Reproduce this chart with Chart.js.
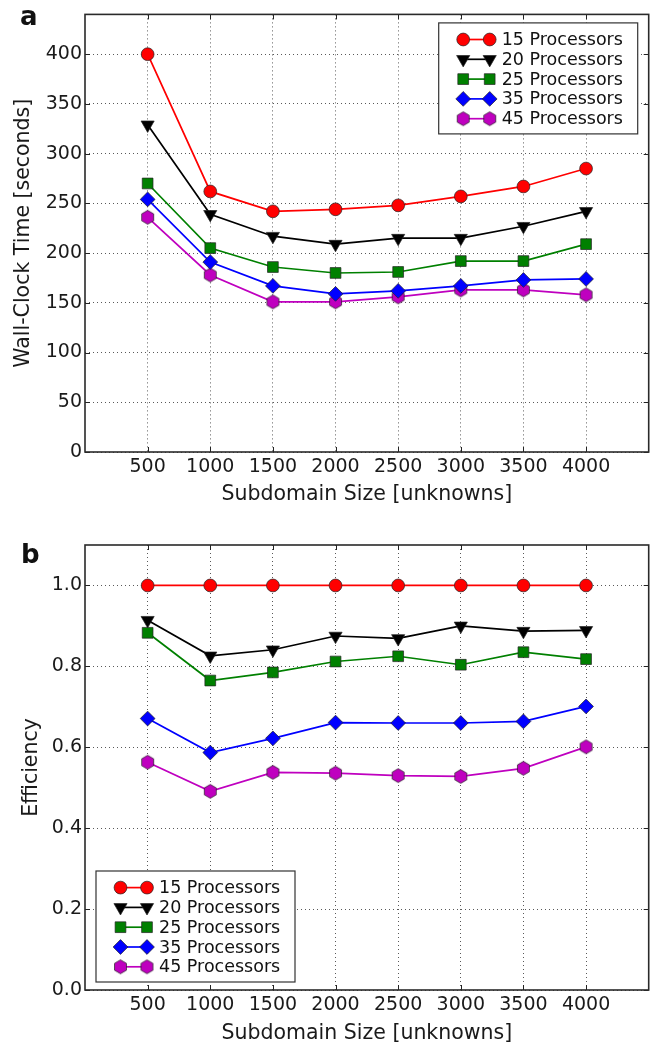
<!DOCTYPE html>
<html>
<head>
<meta charset="utf-8">
<script src="https://cdn.jsdelivr.net/npm/chart.js@4.4.1/dist/chart.umd.min.js"></script>
<style>
  html, body { margin: 0; padding: 0; background: #fff; }
  #page { position: relative; width: 657px; height: 1046px; overflow: hidden; font-family: "DejaVu Sans", sans-serif; }
  canvas { position: absolute; left: 0; }
  #time-chart { top: 0; }
  #eff-chart { top: 520px; }
  .panel-tag { position: absolute; font-weight: bold; font-size: 26px; line-height: 26px; color: #111; }
</style>
</head>
<body>
<div id="page">
  <canvas id="time-chart" width="657" height="520"></canvas>
  <canvas id="eff-chart" width="657" height="526"></canvas>
  <div class="panel-tag" style="left:20px; top:3px;">a</div>
  <div class="panel-tag" style="left:21px; top:541px;">b</div>
</div>
<script>
const subdomainSizes = [500, 1000, 1500, 2000, 2500, 3000, 3500, 4000];
const processorLabels = ['15 Processors', '20 Processors', '25 Processors', '35 Processors', '45 Processors'];

const wallClock15 = [400, 262, 242, 244, 248, 257, 267, 285];
const wallClock20 = [329, 239, 217, 209, 215, 215, 227, 242];
const wallClock25 = [270, 205, 186, 180, 181, 192, 192, 209];
const wallClock35 = [254, 191, 167, 159, 162, 167, 173, 174];
const wallClock45 = [236, 178, 151, 151, 156, 163, 163, 158];

const efficiency15 = [1.0, 1.0, 1.0, 1.0, 1.0, 1.0, 1.0, 1.0];
const efficiency20 = [0.914, 0.826, 0.841, 0.875, 0.869, 0.900, 0.887, 0.889];
const efficiency25 = [0.883, 0.765, 0.785, 0.812, 0.825, 0.804, 0.835, 0.818];
const efficiency35 = [0.671, 0.587, 0.622, 0.661, 0.660, 0.660, 0.664, 0.701];
const efficiency45 = [0.563, 0.491, 0.538, 0.536, 0.530, 0.528, 0.548, 0.601];

const wallClockTicks = [0, 50, 100, 150, 200, 250, 300, 350, 400];
const efficiencyTicks = [0, 0.2, 0.4, 0.6, 0.8, 1.0];

const FONT = '"DejaVu Sans", sans-serif';
const seriesColors = ['#ff0000', '#000000', '#008000', '#0000ff', '#bf00bf'];

function makeHexagon(r, fill) {
  const size = Math.ceil(2 * r + 3);
  const c = document.createElement('canvas');
  c.width = size;
  c.height = size;
  const g = c.getContext('2d');
  g.beginPath();
  for (let k = 0; k < 6; k++) {
    const a = -Math.PI / 2 + k * Math.PI / 3;
    const px = size / 2 + r * Math.cos(a);
    const py = size / 2 + r * Math.sin(a);
    if (k === 0) g.moveTo(px, py); else g.lineTo(px, py);
  }
  g.closePath();
  g.fillStyle = fill;
  g.fill();
  g.lineWidth = 0.7;
  g.strokeStyle = '#222';
  g.stroke();
  return c;
}

const markerStyles = [
  { pointStyle: 'circle', pointRadius: 6.4, pointRotation: 0 },
  { pointStyle: 'triangle', pointRadius: 7.6, pointRotation: 180 },
  { pointStyle: 'rect', pointRadius: 7.6, pointRotation: 0 },
  { pointStyle: 'rectRot', pointRadius: 7.4, pointRotation: 0 },
  { pointStyle: makeHexagon(6.9, seriesColors[4]), pointRadius: 7, pointRotation: 0 }
];

function buildDatasets(seriesList) {
  return seriesList.map((values, i) => ({
    label: processorLabels[i],
    data: values.map((v, j) => ({ x: subdomainSizes[j], y: v })),
    borderColor: seriesColors[i],
    backgroundColor: seriesColors[i],
    borderWidth: 1.7,
    pointBackgroundColor: seriesColors[i],
    pointBorderColor: '#222',
    pointBorderWidth: 0.7,
    pointStyle: markerStyles[i].pointStyle,
    pointRadius: markerStyles[i].pointRadius,
    pointRotation: markerStyles[i].pointRotation,
    tension: 0,
    fill: false
  }));
}

function drawMarker(ctx, ds, x, y) {
  const style = ds.pointStyle;
  const r = ds.pointRadius;
  ctx.save();
  if (style instanceof HTMLCanvasElement) {
    ctx.drawImage(style, x - style.width / 2, y - style.height / 2);
    ctx.restore();
    return;
  }
  ctx.fillStyle = ds.pointBackgroundColor;
  ctx.strokeStyle = ds.pointBorderColor;
  ctx.lineWidth = ds.pointBorderWidth;
  ctx.beginPath();
  if (style === 'circle') {
    ctx.arc(x, y, r, 0, Math.PI * 2);
  } else if (style === 'rect') {
    const h = r * Math.SQRT1_2;
    ctx.rect(x - h, y - h, 2 * h, 2 * h);
  } else if (style === 'rectRot') {
    ctx.moveTo(x, y - r);
    ctx.lineTo(x + r, y);
    ctx.lineTo(x, y + r);
    ctx.lineTo(x - r, y);
    ctx.closePath();
  } else if (style === 'triangle') {
    ctx.moveTo(x, y + r);
    ctx.lineTo(x - r * Math.sin(Math.PI / 3), y - r / 2);
    ctx.lineTo(x + r * Math.sin(Math.PI / 3), y - r / 2);
    ctx.closePath();
  }
  ctx.fill();
  ctx.stroke();
  ctx.restore();
}

// frame on all four sides plus matplotlib-style inward ticks
const framePlugin = {
  id: 'frame',
  afterDatasetsDraw(chart) {
    const { ctx, chartArea } = chart;
    const { left, right, top, bottom } = chartArea;
    const xs = chart.scales.x;
    const ys = chart.scales.y;
    ctx.save();
    ctx.strokeStyle = '#222';
    ctx.lineWidth = 1;
    ctx.beginPath();
    xs.ticks.forEach((t) => {
      const px = Math.round(xs.getPixelForValue(t.value)) + 0.5;
      ctx.moveTo(px, bottom); ctx.lineTo(px, bottom - 5);
      ctx.moveTo(px, top); ctx.lineTo(px, top + 5);
    });
    ys.ticks.forEach((t) => {
      const py = Math.round(ys.getPixelForValue(t.value)) + 0.5;
      ctx.moveTo(left, py); ctx.lineTo(left + 5, py);
      ctx.moveTo(right, py); ctx.lineTo(right - 5, py);
    });
    ctx.stroke();
    ctx.lineWidth = 1.6;
    ctx.strokeStyle = '#2a2a2a';
    ctx.strokeRect(left, top, right - left, bottom - top);
    ctx.restore();
  }
};

const legendBoxPlugin = {
  id: 'legendBox',
  afterDraw(chart, args, opts) {
    const { ctx, chartArea } = chart;
    const boxW = 199;
    const boxH = 111;
    const boxX = opts.corner === 'upper right' ? chartArea.right - 11 - boxW : chartArea.left + 11;
    const boxY = opts.corner === 'upper right' ? chartArea.top + 8.5 : chartArea.bottom - 8 - boxH;
    ctx.save();
    ctx.fillStyle = '#fff';
    ctx.fillRect(boxX, boxY, boxW, boxH);
    ctx.lineWidth = 1.2;
    ctx.strokeStyle = '#333';
    ctx.strokeRect(boxX, boxY, boxW, boxH);
    ctx.font = '17.5px ' + FONT;
    ctx.textBaseline = 'middle';
    ctx.textAlign = 'left';
    chart.data.datasets.forEach((ds, i) => {
      const rowY = boxY + 16.6 + i * 19.8;
      const x0 = boxX + 24.5;
      const x1 = boxX + 51;
      ctx.strokeStyle = ds.borderColor;
      ctx.lineWidth = ds.borderWidth;
      ctx.beginPath();
      ctx.moveTo(x0, rowY);
      ctx.lineTo(x1, rowY);
      ctx.stroke();
      drawMarker(ctx, ds, x0, rowY);
      drawMarker(ctx, ds, x1, rowY);
      ctx.fillStyle = '#111';
      ctx.fillText(ds.label, boxX + 63, rowY + 1);
    });
    ctx.restore();
  }
};

function makeOptions(cfg) {
  return {
    responsive: false,
    animation: false,
    layout: { padding: { top: cfg.padTop, right: 5, left: 0, bottom: 0 } },
    plugins: {
      legend: { display: false },
      tooltip: { enabled: false },
      legendBox: { corner: cfg.legendCorner }
    },
    scales: {
      x: {
        type: 'linear',
        min: 0,
        max: 4500,
        afterBuildTicks: (scale) => { scale.ticks = subdomainSizes.map((v) => ({ value: v })); },
        afterFit: (scale) => { scale.height = cfg.xAxisHeight; },
        grid: { color: 'rgba(0,0,0,0.65)', lineWidth: 1, drawTicks: false },
        border: { display: false, dash: [1, 3] },
        ticks: {
          padding: 4,
          color: '#1a1a1a',
          font: { family: FONT, size: 19 },
          callback: (v) => String(v)
        },
        title: {
          display: true,
          text: 'Subdomain Size [unknowns]',
          color: '#1a1a1a',
          font: { family: FONT, size: 20.5 },
          padding: { top: 0, bottom: cfg.xTitlePad }
        }
      },
      y: {
        min: 0,
        max: cfg.yMax,
        afterBuildTicks: (scale) => { scale.ticks = cfg.yTicks.map((v) => ({ value: v })); },
        afterFit: (scale) => { scale.width = 85; },
        grid: { color: 'rgba(0,0,0,0.65)', lineWidth: 1, drawTicks: false },
        border: { display: false, dash: [1, 3] },
        ticks: {
          padding: 3,
          color: '#1a1a1a',
          font: { family: FONT, size: 19 },
          callback: cfg.yFormat
        },
        title: {
          display: true,
          text: cfg.yTitle,
          color: '#1a1a1a',
          font: { family: FONT, size: 20.5 },
          padding: { top: cfg.yTitlePad, bottom: 0 }
        }
      }
    }
  };
}

new Chart(document.getElementById('time-chart'), {
  type: 'line',
  data: { datasets: buildDatasets([wallClock15, wallClock20, wallClock25, wallClock35, wallClock45]) },
  options: makeOptions({
    padTop: 12,
    xAxisHeight: 68,
    xTitlePad: 13,
    yMax: 440,
    yTicks: wallClockTicks,
    yFormat: (v) => String(v),
    yTitle: 'Wall-Clock Time [seconds]',
    yTitlePad: 11,
    legendCorner: 'upper right'
  }),
  plugins: [framePlugin, legendBoxPlugin]
});

new Chart(document.getElementById('eff-chart'), {
  type: 'line',
  data: { datasets: buildDatasets([efficiency15, efficiency20, efficiency25, efficiency35, efficiency45]) },
  options: makeOptions({
    padTop: 25,
    xAxisHeight: 56,
    xTitlePad: 0,
    yMax: 1.1,
    yTicks: efficiencyTicks,
    yFormat: (v) => Number(v).toFixed(1),
    yTitle: 'Efficiency',
    yTitlePad: 19,
    legendCorner: 'lower left'
  }),
  plugins: [framePlugin, legendBoxPlugin]
});
</script>
</body>
</html>
